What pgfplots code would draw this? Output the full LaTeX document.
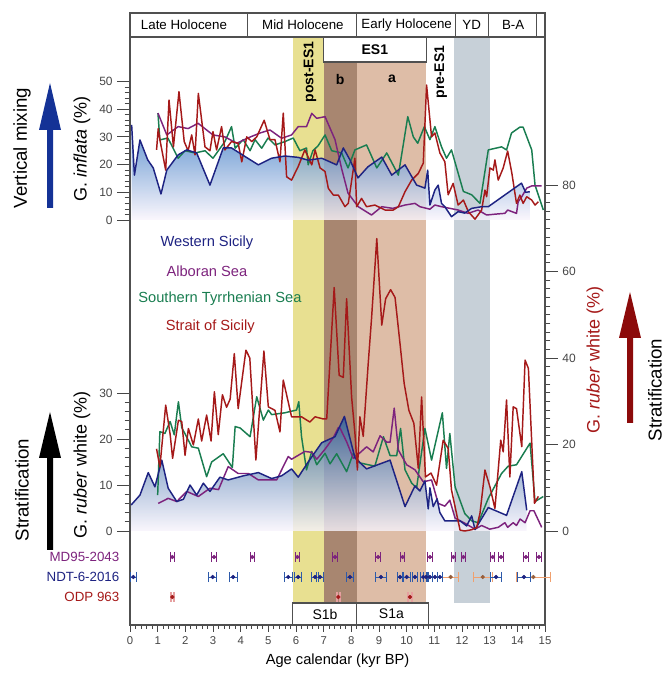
\documentclass[border=0pt]{standalone}
\usepackage{fontspec}
\setmainfont{Liberation Sans}
\usepackage{pgfplots}
\usepackage{pgfplotstable}
\pgfplotsset{compat=1.18}

\definecolor{wsblue}{RGB}{30,35,130}
\definecolor{alpurple}{RGB}{125,35,125}
\definecolor{stgreen}{RGB}{25,125,80}
\definecolor{ssred}{RGB}{165,25,25}
\definecolor{bandyel}{RGB}{232,224,145}
\definecolor{bandb}{RGB}{168,134,112}
\definecolor{banda}{RGB}{222,189,167}
\definecolor{bandyd}{RGB}{199,208,216}
\definecolor{framecol}{RGB}{80,80,80}
\definecolor{tickgray}{RGB}{70,70,70}
\definecolor{ndtblue}{RGB}{45,90,170}
\definecolor{ndtorange}{RGB}{240,160,110}
\definecolor{ndtbrown}{RGB}{150,95,60}
\definecolor{odppink}{RGB}{230,160,160}
\definecolor{arrblue}{RGB}{20,50,150}
\definecolor{arrred}{RGB}{140,10,10}
\definecolor{gtopA}{RGB}{55,120,195}
\definecolor{gmidA}{RGB}{110,165,215}
\definecolor{gbotA}{RGB}{250,245,252}
\definecolor{gtopB}{RGB}{40,95,160}
\definecolor{gmidB}{RGB}{110,160,210}
\definecolor{gbotB}{RGB}{248,244,252}

% G. inflata (%)
\pgfplotstableread{
x y
0.06 34.3
0.16 16.2
0.36 28.9
0.64 21.7
0.84 18.8
1.12 9.4
1.33 18
1.74 23.5
2.05 25.3
2.41 24.2
2.89 12.6
3.37 26
3.67 26
4.16 22.9
4.64 19.9
5.12 22.3
5.6 23.1
6.08 22.6
6.44 21.6
6.93 22.3
7.47 19.9
7.71 26
7.95 21.7
8.24 15.2
8.6 19.2
9.1 22.7
9.46 16.2
9.94 19.9
10.36 12.6
10.66 11.5
10.76 18.0
10.84 5.4
11.02 10.8
11.14 12.6
11.26 6
11.38 4.8
11.62 1.2
11.86 3
12.1 2.5
12.35 4.2
12.71 4.8
12.95 4.8
14.15 13.3
14.3 10
14.45 10.2
}\wsinf

\pgfplotstableread{
x y
1.01 38.6
1.33 30.7
1.74 33.7
2.1 33
2.46 34.9
3.0 30.7
3.43 30
3.86 27.7
4.26 29.6
4.7 31.4
5.06 32.5
5.48 29.5
5.84 30.7
6.08 33.7
6.38 33.7
6.57 38.5
6.75 36.7
7.05 37.3
7.41 29
7.65 18.5
7.88 9.7
8.25 4.8
8.73 1.8
9.1 4.8
9.5 4.2
9.94 5.4
10.3 6
10.48 4.8
10.84 3.9
11.02 5.4
11.26 4.8
11.56 4.2
11.86 3.6
12.22 2.4
12.58 3.6
12.89 1.8
13.19 2.1
13.55 2.4
13.65 3.6
13.97 2.4
14.03 6.6
14.16 8.4
14.34 11.5
14.52 12.3
14.88 12.3
}\alinf

\pgfplotstableread{
x y
1.01 38.6
1.08 28.9
1.37 29.6
1.74 22.3
1.99 25
2.35 24.2
2.71 25
3.0 22.3
3.43 28.3
3.67 33.7
3.8 25.9
4.09 29
4.34 25
4.52 29
4.76 25.9
4.99 29.6
5.24 27.1
5.6 28.3
5.9 29.6
6.14 25
6.38 26
6.44 19.9
6.61 25
6.8 26.8
7.05 30.7
7.29 25
7.65 24.2
7.88 18.8
8.13 25.3
8.55 27.1
8.92 18.8
9.28 24.2
9.7 16.2
10.04 37.3
10.24 30
10.4 27.7
10.64 33.7
10.84 29
11.02 33.7
11.26 26.4
11.44 22.3
11.62 25.3
12.05 10.3
12.35 9.1
12.65 6
12.95 25.3
13.43 26.4
13.61 25.3
13.79 31.4
14.09 33.5
14.21 33.5
14.52 25.3
14.64 12.6
14.94 3.6
}\stinf

\pgfplotstableread{
x y
0.96 25.3
1.02 33
1.08 29
1.29 18
1.41 43.3
1.57 26.4
1.77 46.3
1.96 28.3
2.1 25
2.23 30.7
2.35 23.5
2.47 45.7
2.71 26.4
2.89 25
3.0 31.9
3.13 25.3
3.31 33.7
3.43 25.3
3.67 28.3
3.91 27.7
4.04 21
4.22 30
4.4 28.3
4.58 30
4.85 36
5.06 29
5.24 29
5.42 21
5.54 38.6
5.66 15.6
5.84 14.4
6.08 19.3
6.32 25.3
6.57 19.9
6.69 25.3
6.87 18.8
7.05 17.5
7.17 11.4
7.35 9
7.53 9
7.77 4.8
7.89 6
8.13 22.3
8.19 4.8
8.37 7.8
8.55 4.8
8.85 5.4
9.22 3.6
9.52 3.6
9.7 4.8
9.94 10.2
10.18 14.4
10.42 16.8
10.6 20.5
10.72 48.7
10.9 30
11.02 31.4
11.2 24.2
11.38 21
11.5 9.1
11.68 13.2
11.86 5.4
12.05 7.2
12.23 3
12.47 0.3
12.71 3.6
12.83 10.8
12.89 8.4
13.01 18.8
13.13 18
13.19 21.7
13.31 14.4
13.49 18.8
13.65 24.9
13.8 17
13.97 6
14.09 9
14.21 6
14.34 8.4
14.52 7.2
14.64 5.4
14.76 6.6
}\ssinf

% G. ruber white (%)
\pgfplotstableread{
x y
0.04 5.65
0.36 7.8
0.66 12.7
0.9 9.6
1.15 15.4
1.38 9.3
1.69 6.4
1.93 6.9
2.17 10
2.41 7.8
2.65 10.4
2.89 8.6
3.25 11.7
3.55 11.1
4.1 12
4.64 12.7
5.12 11.4
5.48 12
5.84 13.5
6.08 11.7
6.44 15
6.93 19.2
7.41 20.5
7.75 24.9
8.13 15.9
8.55 13.5
9.4 15.4
9.94 5.3
10.3 9.8
10.48 8.7
10.66 10.9
10.78 4.8
10.84 9.4
10.96 5.3
11.1 7
11.2 4
11.38 2.2
11.93 2.2
12.17 1.1
12.35 3.3
12.47 0.3
12.95 5.1
13.61 3.4
14.16 12.9
14.34 4.5
}\wsrub

\pgfplotstableread{
x y
1.02 6
1.38 7.1
1.69 6.4
2.05 8.6
2.47 7.5
2.89 9.3
3.2 9
3.55 14
3.91 12.5
4.28 12.5
4.64 11.1
5.3 11.1
5.72 16.2
5.84 15.6
6.32 17.3
6.57 17.1
6.75 15.6
7.05 17.8
7.35 20.3
7.53 22.5
7.59 22.4
7.83 19.4
8.07 15.8
8.31 17
8.55 18.3
8.79 17.2
9.04 20.7
9.28 19.3
9.4 19.3
9.55 26.7
9.7 17.6
10.0 14.4
10.3 13.3
10.6 10.7
10.9 11.1
11.14 6
11.38 5.4
11.56 6.7
11.75 2.8
12.1 1.7
12.47 0.4
12.71 1.2
13.0 0.4
13.31 0.8
13.55 1.8
13.65 0.8
13.85 1.8
13.97 1.2
14.1 2.6
14.28 1.8
14.46 4.4
14.6 4.4
14.88 0.8
}\alrub

\pgfplotstableread{
x y
1.0 7.8
1.08 21.6
1.26 21.2
1.45 23.8
1.6 20.9
1.75 28.1
1.87 22.5
2.23 18.3
2.47 18.0
2.77 11.8
2.95 15
3.37 16.8
3.7 13.8
3.8 22.7
3.98 22.4
4.34 20.5
4.58 29.2
4.82 24.1
5.0 26.3
5.12 25.3
5.6 25.7
6.02 26.3
6.1 28.1
6.2 20.5
6.38 13.3
6.57 17.3
6.75 14.4
7.05 16.9
7.23 14.6
7.47 16.8
7.83 12.9
8.07 16.9
8.31 14.8
8.85 14.1
9.16 20.5
9.4 16.4
9.64 16.4
9.78 22.3
9.94 13.3
10.18 10.4
10.36 9.4
10.66 22.3
10.9 15.4
11.29 25.7
11.44 13.6
11.56 21.2
11.75 9.6
12.1 3.8
12.35 2.2
12.59 1.8
12.95 7.1
13.43 12.5
13.67 14.1
13.97 14.4
14.46 19.1
14.64 6.4
14.94 7.5
}\strub

\pgfplotstableread{
x y
0.96 19
1.08 14.8
1.29 29.1
1.45 22.4
1.54 16.8
1.75 25.6
1.87 25.3
1.99 17.5
2.11 23.7
2.29 19.9
2.47 25.9
2.59 20.8
2.77 26.8
2.93 20.8
3.05 32.2
3.19 22.3
3.34 31.5
3.49 28.6
3.62 30.5
3.77 41
3.91 28.3
4.19 41.8
4.33 40
4.55 16.4
4.84 41.6
5.0 28.7
5.24 27.9
5.42 22.9
5.54 34.9
5.84 26.4
6.2 26.4
6.5 25.2
6.69 26.4
6.99 25.9
7.11 25.9
7.38 56.3
7.56 36
7.71 35.5
7.83 53.7
8.01 31
8.13 22.6
8.22 14.1
8.31 26.4
8.43 21.9
8.61 38.7
8.73 49.1
8.92 67.6
9.1 47.6
9.24 53.7
9.42 55.8
9.58 54
9.76 43.3
9.91 34.1
10.08 27.9
10.26 24.9
10.42 14.5
10.54 31
10.68 12.5
10.88 13.4
11.08 10.6
11.32 21
11.5 19.1
11.62 9.5
11.93 0.2
12.1 0
12.35 0.3
12.53 0.8
12.65 4.1
12.83 14.1
13.01 10.2
13.19 5.2
13.4 21
13.49 18.3
13.61 30.3
13.73 12.5
13.85 28.7
13.97 28.3
14.16 19.5
14.28 39.5
14.4 37.6
14.62 6.4
14.76 8
}\ssrub

\pgfplotsset{
  panel/.style={scale only axis, width=311.25pt, xmin=0, xmax=15,
    axis x line=none, clip=false,
    major tick length=9.5pt, minor tick length=4pt,
    tick style={tickgray, line width=0.6pt},
    axis line style={framecol, line width=0.8pt},
    /pgf/number format/assume math mode=true,
    yticklabel style={font=\fontsize{9}{10}\selectfont, text=tickgray}},
  curve/.style={line width=1.1pt, line join=round},
}

\begin{document}
\begin{tikzpicture}
\path[use as bounding box] (0pt,0pt) rectangle (500.25pt,507pt);

% frame, bands, header, dating (y = 676 - pixel row)
\begin{axis}[at={(97.5pt,38.25pt)}, anchor=south west, scale only axis,
  width=311.25pt, height=459pt, xmin=0, xmax=15, ymin=51, ymax=663,
  clip=false, xtick={0,1,...,15}, minor x tick num=4, xtick pos=left,
  ytick=\empty, tick align=outside, major tick length=5pt, minor tick length=3pt,
  tick style={tickgray, line width=0.6pt},
  axis line style={framecol, line width=0.8pt},
  /pgf/number format/assume math mode=true,
  xticklabel style={font=\fontsize{8.5}{10}\selectfont, text=tickgray},
  xlabel={Age calendar (kyr BP)},
  xlabel style={font=\fontsize{11}{13}\selectfont, yshift=0pt}]
\fill[bandyel] (axis cs:5.9,73) rectangle (axis cs:7.0,639);
\fill[bandb] (axis cs:7.0,73) rectangle (axis cs:8.2,639);
\fill[banda] (axis cs:8.2,73) rectangle (axis cs:10.7,639);
\fill[bandyd] (axis cs:11.7,73) rectangle (axis cs:13.0,639);
% header
\draw[framecol, line width=0.8pt] (axis cs:0,639) -- (axis cs:15,639);
\draw[framecol, line width=0.8pt] (axis cs:4.25,663) -- (axis cs:4.25,639);
\draw[framecol, line width=0.8pt] (axis cs:8.2,663) -- (axis cs:8.2,639);
\draw[framecol, line width=0.8pt] (axis cs:11.75,663) -- (axis cs:11.75,639);
\draw[framecol, line width=0.8pt] (axis cs:12.95,663) -- (axis cs:12.95,639);
\draw[framecol, line width=0.8pt] (axis cs:14.7,663) -- (axis cs:14.7,639);
\node[font=\fontsize{10}{12}\selectfont] at (axis cs:1.95,651) {Late Holocene};
\node[font=\fontsize{10}{12}\selectfont] at (axis cs:6.25,651) {Mid Holocene};
\node[font=\fontsize{10}{12}\selectfont] at (axis cs:10.0,651) {Early Holocene};
\node[font=\fontsize{10}{12}\selectfont] at (axis cs:12.35,651) {YD};
\node[font=\fontsize{10}{12}\selectfont] at (axis cs:13.85,651) {B-A};
\draw[framecol, fill=white, line width=0.8pt] (axis cs:7.0,639) rectangle (axis cs:10.7,614);
\node[font=\bfseries\fontsize{10.5}{12}\selectfont] at (axis cs:8.85,626) {ES1};
\node[font=\bfseries\fontsize{10.5}{12}\selectfont] at (axis cs:7.6,597) {b};
\node[font=\bfseries\fontsize{10.5}{12}\selectfont] at (axis cs:9.47,597) {a};
\node[rotate=90, font=\bfseries\fontsize{10.5}{12}\selectfont] at (axis cs:6.5,604) {post-ES1};
\node[rotate=90, font=\bfseries\fontsize{10.5}{12}\selectfont] at (axis cs:11.23,604) {pre-ES1};
% S1 boxes
\draw[framecol, fill=white, line width=0.8pt] (axis cs:5.88,73) rectangle (axis cs:8.2,51);
\draw[framecol, fill=white, line width=0.8pt] (axis cs:8.2,73) rectangle (axis cs:10.8,51);
\node[font=\fontsize{10.5}{12}\selectfont] at (axis cs:7.05,62) {S1b};
\node[font=\fontsize{10.5}{12}\selectfont] at (axis cs:9.45,62) {S1a};
% series names
\node[font=\fontsize{11}{13}\selectfont, text=wsblue] at (axis cs:2.78,433) {Western Sicily};
\node[font=\fontsize{11}{13}\selectfont, text=alpurple] at (axis cs:2.78,405) {Alboran Sea};
\node[font=\fontsize{11}{13}\selectfont, text=stgreen] at (axis cs:3.25,377) {Southern Tyrrhenian Sea};
\node[font=\fontsize{11}{13}\selectfont, text=ssred] at (axis cs:2.9,349) {Strait of Sicily};
% dating points
\addplot[only marks, mark=*, mark size=1.4pt, color=alpurple,
  error bars/.cd, x dir=both, x explicit, error mark=|,
  error bar style={alpurple, line width=0.6pt},
  error mark options={alpurple, mark size=3.7pt, line width=0.8pt}]
  coordinates {(1.53,119) +- (0.08,0) (3.04,119) +- (0.08,0) (4.42,119) +- (0.08,0)
  (6.05,119) +- (0.08,0) (7.41,119) +- (0.08,0) (8.97,119) +- (0.08,0)
  (9.85,119) +- (0.08,0) (10.84,119) +- (0.08,0) (11.69,119) +- (0.08,0)
  (12.05,119) +- (0.08,0) (13.11,119) +- (0.08,0) (13.41,119) +- (0.08,0)
  (14.31,119) +- (0.08,0) (14.78,119) +- (0.08,0)};
\addplot[only marks, mark=*, mark size=1.4pt, color=ndtbrown,
  error bars/.cd, x dir=both, x explicit, error mark=|,
  error bar style={ndtorange, line width=0.7pt},
  error mark options={ndtorange, mark size=3.9pt, line width=0.7pt}]
  coordinates {(11.59,99) +- (0.3,0) (12.75,99) +- (0.35,0) (14.58,99) +- (0.6,0)};
\addplot[only marks, mark=*, mark size=1.4pt, color=wsblue,
  error bars/.cd, x dir=both, x explicit, error mark=|,
  error bar style={ndtblue, line width=0.7pt},
  error mark options={ndtblue, mark size=3.9pt, line width=0.7pt}]
  coordinates {(0.12,99) +- (0.1,0) (2.99,99) +- (0.15,0) (3.73,99) +- (0.15,0)
  (5.72,99) +- (0.15,0) (6.08,99) +- (0.12,0) (6.69,99) +- (0.12,0)
  (6.87,99) +- (0.12,0) (7.95,99) +- (0.12,0) (9.07,99) +- (0.2,0)
  (9.76,99) +- (0.1,0) (10.0,99) +- (0.12,0) (10.3,99) +- (0.1,0)
  (10.6,99) +- (0.1,0) (10.7,99) +- (0.1,0) (10.84,99) +- (0.1,0)
  (11.02,99) +- (0.1,0) (11.2,99) +- (0.1,0) (13.23,99) +- (0.2,0)
  (14.24,99) +- (0.25,0)};
\addplot[only marks, mark=*, mark size=1.4pt, color=ssred,
  error bars/.cd, x dir=both, x explicit, error mark=|,
  error bar style={odppink, line width=1.2pt},
  error mark options={odppink, mark size=3.5pt, line width=1.2pt}]
  coordinates {(1.53,79) +- (0.05,0) (7.53,79) +- (0.05,0) (10.12,79) +- (0.07,0)};
\end{axis}

% upper panel: G. inflata
\begin{axis}[panel, at={(97.5pt,342pt)}, anchor=south west, height=103.9pt,
  ymin=0, ymax=50, axis y line*=left, ytick={0,10,...,50}, minor y tick num=4,
  ytick align=outside]
\addplot[draw=none, top color=gtopA, middle color=gmidA, bottom color=gbotA,
  fill opacity=0.8] table {\wsinf} \closedcycle;
\addplot[curve, stgreen] table {\stinf};
\addplot[curve, alpurple] table {\alinf};
\addplot[curve, ssred] table {\ssinf};
\addplot[curve, wsblue] table {\wsinf};
\end{axis}

% lower panel: G. ruber white, left
\begin{axis}[panel, at={(97.5pt,108.75pt)}, anchor=south west, height=103.5pt,
  ymin=0, ymax=30, axis y line*=left, ytick={0,10,20,30}, minor y tick num=4,
  ytick align=outside]
\addplot[draw=none, top color=gtopB, middle color=gmidB, bottom color=gbotB,
  fill opacity=0.8] table {\wsrub} \closedcycle;
\addplot[curve, stgreen] table {\strub};
\addplot[curve, alpurple] table {\alrub};
\addplot[curve, wsblue] table {\wsrub};
\end{axis}

% lower panel: Strait of Sicily, right axis
\begin{axis}[panel, at={(97.5pt,108.75pt)}, anchor=south west, height=259.5pt,
  ymin=0, ymax=80, axis y line*=right, ytick={0,20,...,80}, minor y tick num=9,
  ytick align=outside]
\addplot[curve, ssred] table {\ssrub};
\end{axis}

% axis titles and arrows (picture pixels, y from bottom)
\begin{scope}[x=0.75pt, y=0.75pt]
\node[rotate=90, font=\fontsize{13.5}{15}\selectfont] at (82,527) {G. \textit{inflata} (\%)};
\node[rotate=90, font=\fontsize{13.5}{15}\selectfont] at (82,211) {G. \textit{ruber} white (\%)};
\node[rotate=90, font=\fontsize{13.5}{15}\selectfont, text=ssred] at (595,316) {G. \textit{ruber} white (\%)};
\node[rotate=90, font=\fontsize{14}{16}\selectfont] at (22,528) {Vertical mixing};
\node[rotate=90, font=\fontsize{14}{16}\selectfont] at (22,186) {Stratification};
\node[rotate=90, font=\fontsize{14}{16}\selectfont] at (655,286) {Stratification};
\fill[arrblue] (47,468) -- (47,546) -- (39,546) -- (50,593) -- (61,546) -- (53,546) -- (53,468) -- cycle;
\fill[black] (47,126) -- (47,218) -- (39,218) -- (50,264) -- (61,218) -- (53,218) -- (53,126) -- cycle;
\fill[arrred] (627,253) -- (627,338) -- (619,338) -- (630,384) -- (641,338) -- (633,338) -- (633,253) -- cycle;
\node[font=\fontsize{10}{12}\selectfont, anchor=east, text=alpurple] at (124,119) {MD95-2043};
\node[font=\fontsize{10}{12}\selectfont, anchor=east, text=wsblue] at (124,99) {NDT-6-2016};
\node[font=\fontsize{10}{12}\selectfont, anchor=east, text=ssred] at (124,79) {ODP 963};
\end{scope}
\end{tikzpicture}
\end{document}
